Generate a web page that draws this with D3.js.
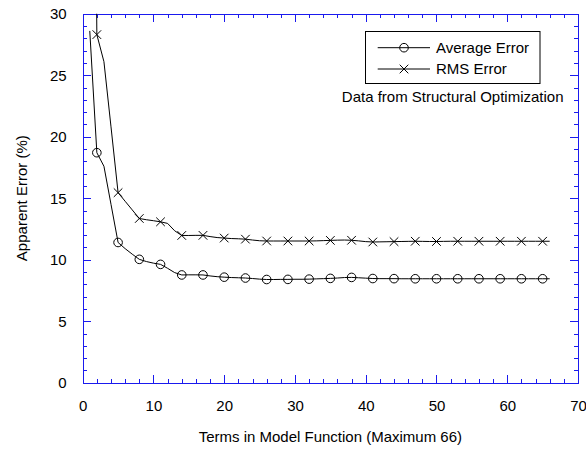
<!DOCTYPE html>
<html>
  <head>
    <title>Apparent Error</title>
    <meta charset="utf-8">
    <script type="text/javascript" src="https://d3js.org/d3.v7.min.js"></script>
    <style>
      body { margin: 0; background: #fff; }
      svg text { font-family: "Liberation Sans", Arial, sans-serif; font-size: 15px; fill: #000; }
    </style>
  </head>

  <body>
    <div><svg></svg></div>

    <script type="text/javascript">
      "use strict";

      // number of terms, 1..66 (markers on every 3rd one, starting at 2)
      var terms = d3.range(1, 67);

      var avgError = [
        28.6, 18.7, 17.6, 14.5, 11.4, 10.9, 10.45, 10.03, 9.85, 9.72,
        9.62, 9.3, 8.95, 8.76, 8.77, 8.77, 8.76, 8.68, 8.62, 8.58,
        8.55, 8.53, 8.51, 8.47, 8.42, 8.39, 8.39, 8.4, 8.4, 8.41,
        8.41, 8.42, 8.44, 8.46, 8.48, 8.51, 8.55, 8.56, 8.53, 8.5,
        8.47, 8.46, 8.46, 8.46, 8.45, 8.45, 8.45, 8.45, 8.45, 8.45,
        8.45, 8.45, 8.45, 8.45, 8.45, 8.45, 8.45, 8.45, 8.45, 8.45,
        8.45, 8.45, 8.45, 8.45, 8.45, 8.45
      ];

      // first value runs off the top of the chart
      var rmsError = [
        100, 28.3, 26.1, 20.8, 15.45, 14.75, 14.05, 13.35, 13.25, 13.17,
        13.08, 12.95, 12.35, 11.97, 11.97, 11.98, 11.98, 11.88, 11.8, 11.76,
        11.72, 11.7, 11.67, 11.6, 11.54, 11.52, 11.52, 11.52, 11.52, 11.52,
        11.52, 11.52, 11.53, 11.55, 11.57, 11.59, 11.6, 11.58, 11.53, 11.47,
        11.44, 11.45, 11.46, 11.47, 11.48, 11.49, 11.5, 11.49, 11.48, 11.48,
        11.49, 11.5, 11.5, 11.5, 11.5, 11.5, 11.5, 11.5, 11.5, 11.5,
        11.5, 11.5, 11.5, 11.5, 11.5, 11.5
      ];

      var xTicks = [0, 10, 20, 30, 40, 50, 60, 70];
      var yTicks = [0, 5, 10, 15, 20, 25, 30];
      var seriesNames = ['Average Error', 'RMS Error'];
      var note = 'Data from Structural Optimization';
      var xTitle = 'Terms in Model Function (Maximum 66)';
      var yTitle = 'Apparent Error (%)';

      var width = 586, height = 450;
      var pLeft = 82.7, pRight = 578, pTop = 13.7, pBottom = 382.7;
      var axisColor = '#1a1aee';

      var svg = d3.select('svg')
                  .attr('width', width)
                  .attr('height', height);

      var x = d3.scaleLinear().domain([0, 70]).range([pLeft, pRight]);
      var y = d3.scaleLinear().domain([0, 30]).range([pBottom, pTop]);

      svg.append('clipPath').attr('id', 'plot')
         .append('rect')
         .attr('x', pLeft).attr('y', pTop)
         .attr('width', pRight - pLeft).attr('height', pBottom - pTop);

      // axes: ticks point inward on all four sides
      var xMinor = d3.range(0, 71, 2);
      var yMinor = d3.range(0, 31, 1);

      function styleAxis(g) {
        g.selectAll('.domain').attr('stroke', axisColor).attr('shape-rendering', 'crispEdges');
        g.selectAll('.tick line').attr('stroke', axisColor).attr('shape-rendering', 'crispEdges');
        g.selectAll('.tick text').attr('fill', '#000');
        g.attr('font-size', null).attr('font-family', null);
      }

      var axes = [
        [d3.axisBottom(x).tickValues(xMinor).tickSize(-4).tickFormat(''), 'translate(0,' + pBottom + ')'],
        [d3.axisBottom(x).tickValues(xTicks).tickSize(-8).tickPadding(18), 'translate(0,' + pBottom + ')'],
        [d3.axisTop(x).tickValues(xMinor).tickSize(-4).tickFormat(''), 'translate(0,' + pTop + ')'],
        [d3.axisTop(x).tickValues(xTicks).tickSize(-8).tickFormat(''), 'translate(0,' + pTop + ')'],
        [d3.axisLeft(y).tickValues(yMinor).tickSize(-4).tickFormat(''), 'translate(' + pLeft + ',0)'],
        [d3.axisLeft(y).tickValues(yTicks).tickSize(-8).tickPadding(16), 'translate(' + pLeft + ',0)'],
        [d3.axisRight(y).tickValues(yMinor).tickSize(-4).tickFormat(''), 'translate(' + pRight + ',0)'],
        [d3.axisRight(y).tickValues(yTicks).tickSize(-8).tickFormat(''), 'translate(' + pRight + ',0)']
      ];
      axes.forEach(function(a) {
        svg.append('g')
           .attr('transform', a[1])
           .call(a[0].tickSizeOuter(0))
           .call(styleAxis);
      });

      // axis titles
      svg.append('text')
         .attr('x', (pLeft + pRight) / 2)
         .attr('y', 442)
         .attr('text-anchor', 'middle')
         .text(xTitle);

      svg.append('text')
         .attr('transform', 'translate(27,' + (pTop + pBottom) / 2 + ') rotate(-90)')
         .attr('text-anchor', 'middle')
         .text(yTitle);

      // series
      var line = d3.line()
                   .x(function(d) { return x(d[0]); })
                   .y(function(d) { return y(d[1]); });

      var xPath = 'M-4.3,-4.3L4.3,4.3M-4.3,4.3L4.3,-4.3';

      function drawMarker(sel, kind) {
        if (kind === 0) {
          sel.append('circle').attr('r', 4.3)
             .attr('fill', 'none').attr('stroke', '#000');
        } else {
          sel.append('path').attr('d', xPath)
             .attr('fill', 'none').attr('stroke', '#000');
        }
      }

      var plot = svg.append('g').attr('clip-path', 'url(#plot)');

      [avgError, rmsError].forEach(function(vals, k) {
        var pts = terms.map(function(t, i) { return [t, vals[i]]; });
        plot.append('path')
            .datum(pts)
            .attr('fill', 'none')
            .attr('stroke', '#000')
            .attr('stroke-width', 1)
            .attr('d', line);

        var marks = pts.filter(function(d, i) { return i % 3 === 1; });
        plot.selectAll('g.m' + k)
            .data(marks)
            .enter().append('g')
            .attr('class', 'm' + k)
            .attr('transform', function(d) {
              return 'translate(' + x(d[0]) + ',' + y(d[1]) + ')';
            })
            .each(function() { drawMarker(d3.select(this), k); });
      });

      // legend
      var legend = svg.append('g');
      legend.append('rect')
            .attr('x', 365.5).attr('y', 31.5)
            .attr('width', 174.5).attr('height', 52)
            .attr('fill', '#fff').attr('stroke', '#000');

      seriesNames.forEach(function(name, k) {
        var ly = 47.7 + k * 21.3;
        legend.append('line')
              .attr('x1', 377.7).attr('x2', 430)
              .attr('y1', ly).attr('y2', ly)
              .attr('stroke', '#000');
        drawMarker(legend.append('g').attr('transform', 'translate(404,' + ly + ')'), k);
        legend.append('text')
              .attr('x', 436).attr('y', ly)
              .attr('dy', '0.35em')
              .text(name);
      });

      legend.append('text')
            .attr('x', 452.7).attr('y', 102)
            .attr('text-anchor', 'middle')
            .text(note);
    </script>
  </body>
</html>
